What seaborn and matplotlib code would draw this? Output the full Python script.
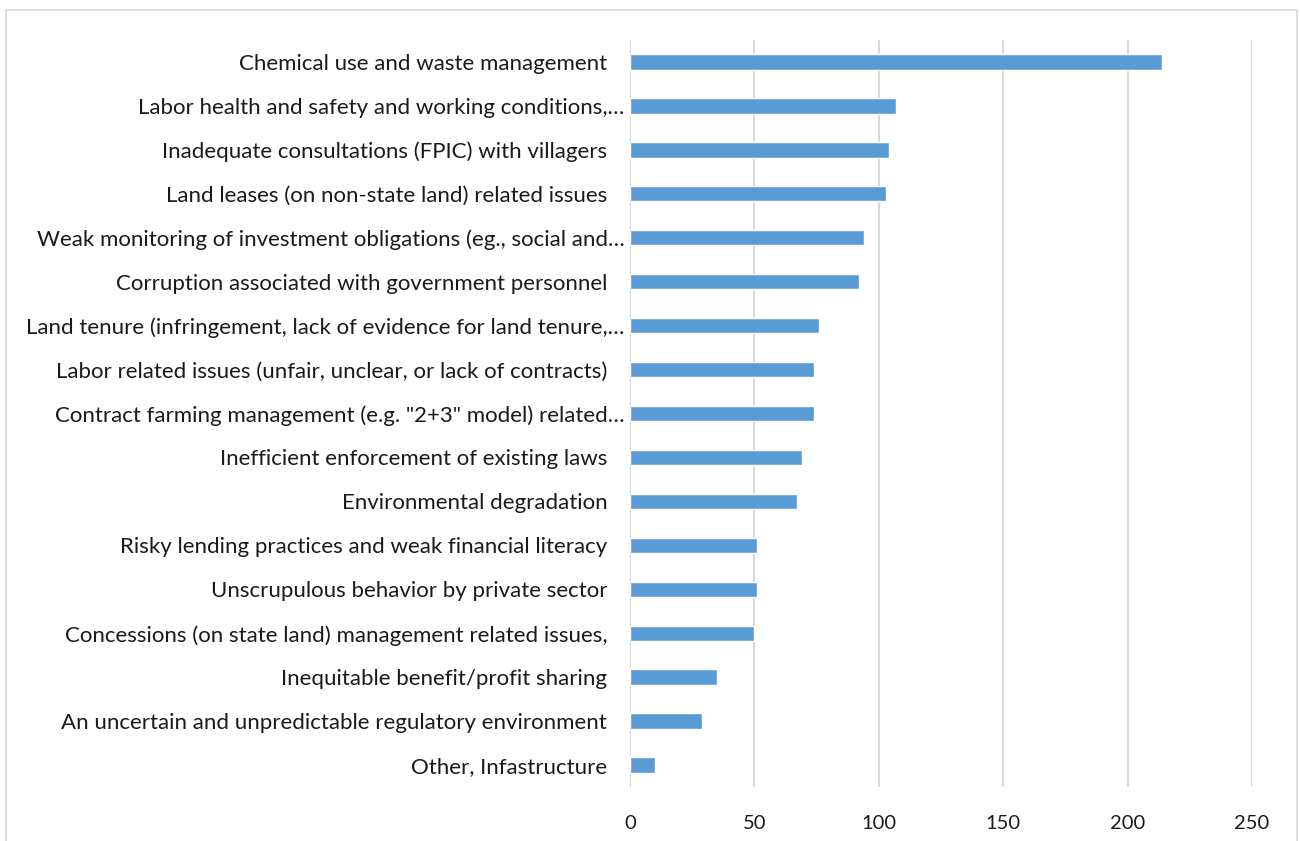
import matplotlib
matplotlib.use("Agg")
import matplotlib.pyplot as plt
import seaborn as sns
import pandas as pd
from matplotlib.patches import Rectangle

categories = [
    "Chemical use and waste management",
    "Labor health and safety and working conditions,…",
    "Inadequate consultations (FPIC) with villagers",
    "Land leases (on non-state land) related issues",
    "Weak monitoring of investment obligations (eg., social and…",
    "Corruption associated with government personnel",
    "Land tenure (infringement, lack of evidence for land tenure,…",
    "Labor related issues (unfair, unclear, or lack of contracts)",
    "Contract farming management (e.g. \"2+3\" model) related…",
    "Inefficient enforcement of existing laws",
    "Environmental degradation",
    "Risky lending practices and weak financial literacy",
    "Unscrupulous behavior by private sector",
    "Concessions (on state land) management related issues,",
    "Inequitable benefit/profit sharing",
    "An uncertain and unpredictable regulatory environment",
    "Other, Infastructure",
]
values = [214, 107, 104, 103, 94, 92, 76, 74, 74, 69, 67, 51, 51, 50, 35, 29, 10]
x_ticks = [0, 50, 100, 150, 200, 250]

df = pd.DataFrame({"category": categories, "value": values})

sns.set_theme(style="white")
plt.rcParams["font.family"] = ["Lato", "DejaVu Sans"]

fig = plt.figure(figsize=(13, 8.41), dpi=100)
ax = fig.add_axes([630 / 1300, 1 - 787 / 841, (1252 - 630) / 1300, (787 - 40) / 841])

sns.barplot(data=df, y="category", x="value", orient="h", color="#5B9BD5",
            saturation=1, width=0.35, ax=ax)

ax.set_xlim(0, 250)
ax.set_ylim(len(categories) - 0.5, -0.5)
ax.set_xticks(x_ticks)
ax.set_xticklabels([str(t) for t in x_ticks])
ax.grid(axis="x", color="#D9D9D9", linewidth=1.5)
ax.set_axisbelow(True)
for s in ax.spines.values():
    s.set_visible(False)
ax.set_xlabel("")
ax.set_ylabel("")

labels = []
for c in categories:
    labels.append(c if c.endswith("…") else c + "   ")
ax.set_yticks(range(len(categories)))
ax.set_yticklabels(labels)
ax.tick_params(axis="y", length=0, pad=4, labelsize=16, labelcolor="#1a1a1a")
ax.tick_params(axis="x", length=0, pad=20, labelsize=14.5, labelcolor="#1a1a1a")

fig.patches.append(Rectangle((6 / 1300, -0.01), 1291 / 1300, 1 - 10 / 841 + 0.01,
                             transform=fig.transFigure, fill=False,
                             edgecolor="#D9D9D9", linewidth=1.2))

fig.savefig("out.png", dpi=100)
